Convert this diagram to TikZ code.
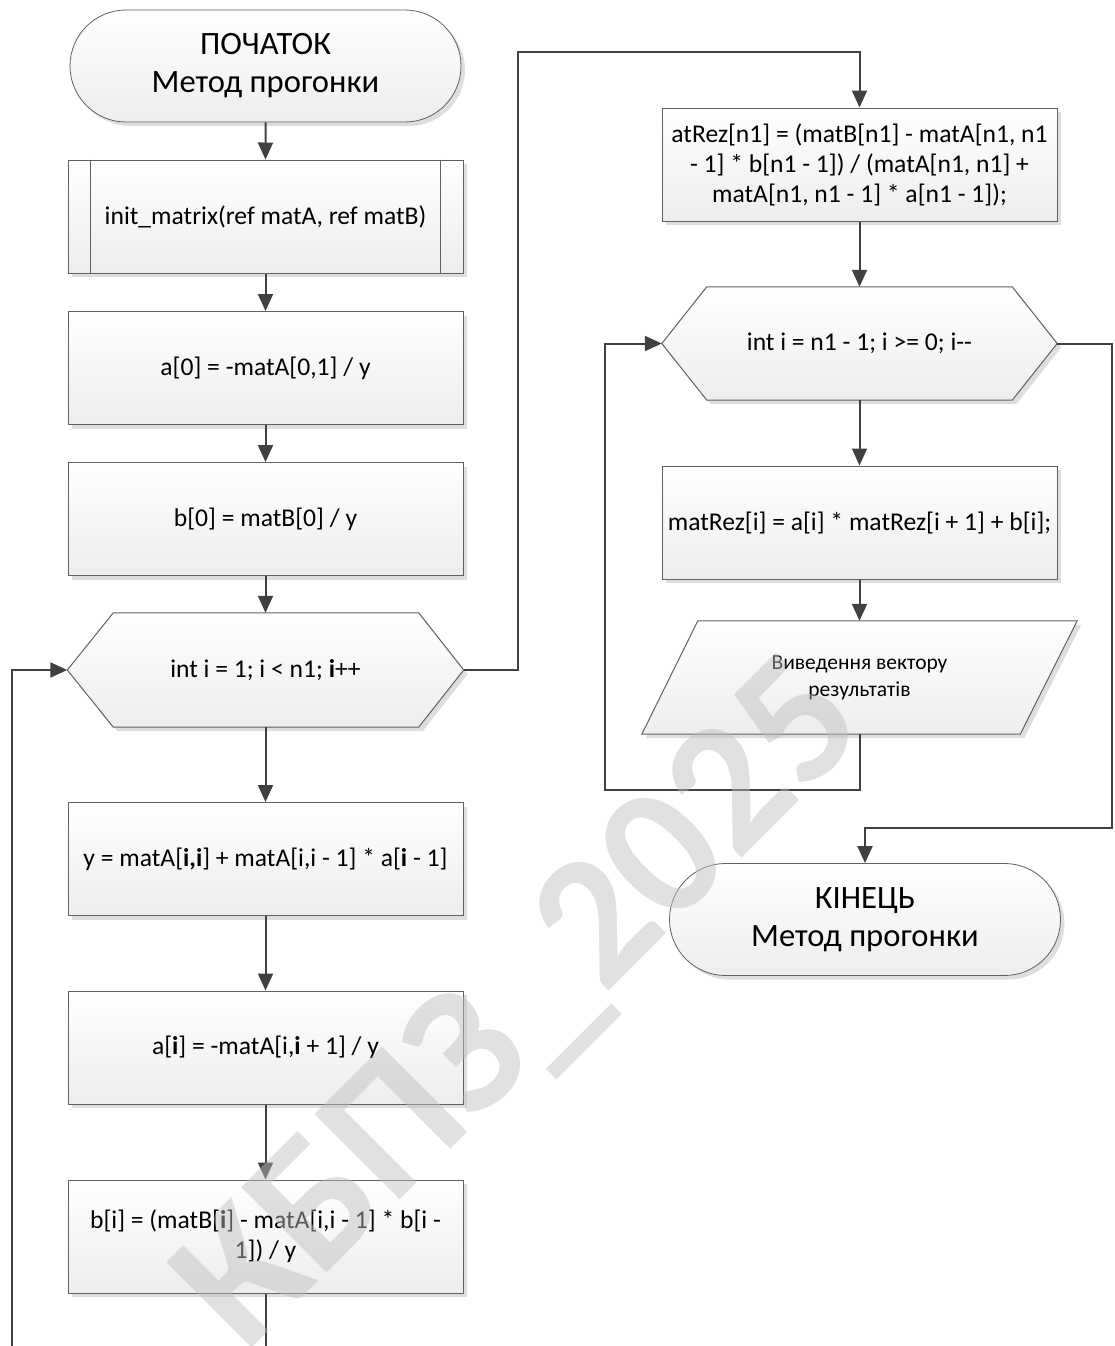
\documentclass[tikz,border=0pt]{standalone}
\usepackage{fontspec}
\setmainfont{Carlito}
\usetikzlibrary{arrows.meta,shapes.misc,shadows,backgrounds}

\begin{document}
\begin{tikzpicture}[x=1pt,y=-1pt,
  flow/.style={draw=black!75, line width=2pt, -{Triangle[length=17pt,width=15pt]}},
  wire/.style={draw=black!75, line width=2pt},
  boxfill/.style={top color=white, bottom color=black!7, draw=black!62, line width=1pt,
    drop shadow={shadow xshift=4pt, shadow yshift=-4pt, fill=black!13, opacity=1}},
  txt/.style={font=\fontsize{25.6}{30}\selectfont, align=center, text=black},
  proc/.style={boxfill, txt, rectangle, minimum width=395pt, minimum height=113pt, inner sep=0pt},
  terminal/.style={boxfill, line width=0.8pt, rounded rectangle, minimum width=391pt,
    minimum height=112pt, inner sep=0pt, align=center, font=\fontsize{32.6}{38}\selectfont},
  holder/.style={rectangle, minimum width=#1, minimum height=113pt, inner sep=0pt, align=center},
  wmark/.style={font=\bfseries\fontsize{186}{186}\selectfont, text=black!25, opacity=0.47}
]
\useasboundingbox (0,0) rectangle (1114,1346);

% ---- left column ----
\node[terminal] (start) at (265.5,66) {ПОЧАТОК\\Метод прогонки};
\node[proc] (sub) at (265.5,216.5) {init\_matrix(ref matA, ref matB)};
\draw[black!62, line width=1pt] ([xshift=23pt]sub.north west) -- ([xshift=23pt]sub.south west);
\draw[black!62, line width=1pt] ([xshift=-23pt]sub.north east) -- ([xshift=-23pt]sub.south east);
\node[proc] (a0) at (265.5,368) {a[0] = -matA[0,1] / y};
\node[proc] (b0) at (265.5,519) {b[0] = matB[0] / y};
\node[holder=396pt, txt, minimum height=114pt] (lp1) at (265.5,670) {int i = 1; i < n1; \textbf{i}++};
\node[proc] (yb) at (265.5,859) {y = matA[\textbf{i,i}] + matA[i,i - 1] * a[\textbf{i} - 1]};
\node[proc] (ai) at (265.5,1047.5) {a[\textbf{i}] = -matA[i,\textbf{i} + 1] / y};
\node[proc] (bi) at (265.5,1236.5) {b[i] = (matB[\textbf{i}] - matA[i,i - 1] * b[i -\\1]) / y};

% ---- right column ----
\node[proc] (ar) at (859.5,164.5) {atRez[n1] = (matB[n1] - matA[n1, n1\\- 1] * b[n1 - 1]) / (matA[n1, n1] +\\matA[n1, n1 - 1] * a[n1 - 1]);};
\node[holder=395pt, txt] (lp2) at (859.5,343.5) {int i = n1 - 1; i >= 0; i-{}-};
\node[proc] (mr) at (859.5,522.5) {matRez[i] = a[i] * matRez[i + 1] + b[i];};
\node[holder=435pt, font=\fontsize{21.5}{27}\selectfont] (out) at (859.5,677.5) {Виведення вектору\\результатів};
\node[terminal] (fin) at (865,919.5) {КІНЕЦЬ\\Метод прогонки};

% hexagon and parallelogram outlines behind their texts
\begin{scope}[on background layer]
  \path[boxfill] (lp1.west) -- ([xshift=46pt]lp1.north west) -- ([xshift=-45pt]lp1.north east)
    -- (lp1.east) -- ([xshift=-45pt]lp1.south east) -- ([xshift=46pt]lp1.south west) -- cycle;
  \path[boxfill] (lp2.west) -- ([xshift=45pt]lp2.north west) -- ([xshift=-45pt]lp2.north east)
    -- (lp2.east) -- ([xshift=-45pt]lp2.south east) -- ([xshift=45pt]lp2.south west) -- cycle;
  \path[boxfill] ([xshift=56pt]out.north west) -- (out.north east)
    -- ([xshift=-57pt]out.south east) -- (out.south west) -- cycle;
\end{scope}

% ---- connectors ----
\coordinate (bc) at (265.5,1346);
\coordinate (lb) at (12,1346);
\coordinate (j1) at (518,52);
\coordinate (j2) at (605,790);
\coordinate (j3) at (1112,828);

\draw[flow] (start) -- (sub);
\draw[flow] (sub) -- (a0);
\draw[flow] (a0) -- (b0);
\draw[flow] (b0) -- (lp1);
\draw[flow] (lp1) -- (yb);
\draw[flow] (yb) -- (ai);
\draw[flow] (ai) -- (bi);
\draw[wire] (bi) -- (bc);
\draw[flow] (lb) |- (lp1.west);
\draw[flow] (lp1.east) -| (j1) -| (ar.north);
\draw[flow] (ar) -- (lp2);
\draw[flow] (lp2) -- (mr);
\draw[flow] (mr) -- (out);
\draw[flow] (out.south) |- (j2) |- (lp2.west);
\draw[flow] (lp2.east) -| (j3) -| (fin.north);

% ---- watermark ----
\node[wmark, rotate=45, anchor=base] (wm) at (558,1042) {КБПЗ\_2025};
\end{tikzpicture}
\end{document}
